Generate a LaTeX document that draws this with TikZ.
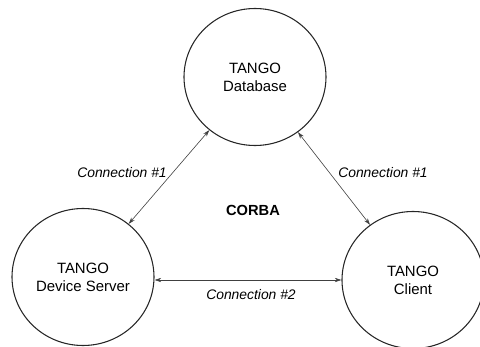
\documentclass[tikz,border=0pt]{standalone}
\usepackage{fontspec}
\setmainfont{Liberation Sans}
\usepackage{tikz}
\usetikzlibrary{shapes.geometric, arrows.meta, positioning, calc}
\tikzset{
    tangonode/.style={ellipse, draw=black!85, line width=0.8pt, minimum width=142pt*0.75, minimum height=137pt*0.75, text centered, align=center, font=\fontsize{11.2}{13.5}\selectfont, inner sep=0pt},
    connlabel/.style={font=\fontsize{10.4}{12}\selectfont\itshape, inner sep=1pt},
    corbalabel/.style={font=\fontsize{11}{13}\selectfont\bfseries, inner sep=1pt},
    link/.style={<->, >={Stealth[length=5pt, width=3.2pt]}, line width=0.45pt, color=black!75}
}
\begin{document}
\begin{tikzpicture}[x=0.75pt, y=-0.75pt]
    \useasboundingbox (0,0) rectangle (480,347);

    \node (db)  [tangonode] at (255,77)  {TANGO\\Database};
    \node (dev) [tangonode] at (83,277)  {TANGO\\Device Server};
    \node (cli) [tangonode] at (413,280) {TANGO\\Client};

    \node (corba) [corbalabel] at (253,210) {CORBA};
    \node (conn1l) [connlabel] at (122,173) {Connection \#1};
    \node (conn1r) [connlabel] at (383,173) {Connection \#1};
    \node (conn2)  [connlabel] at (251,295) {Connection \#2};

    \draw [link] (dev) -- (db);
    \draw [link] (db) -- (cli);
    \draw [link] (dev.east |- 0,280) -- (cli.west |- 0,280);
\end{tikzpicture}
\end{document}
